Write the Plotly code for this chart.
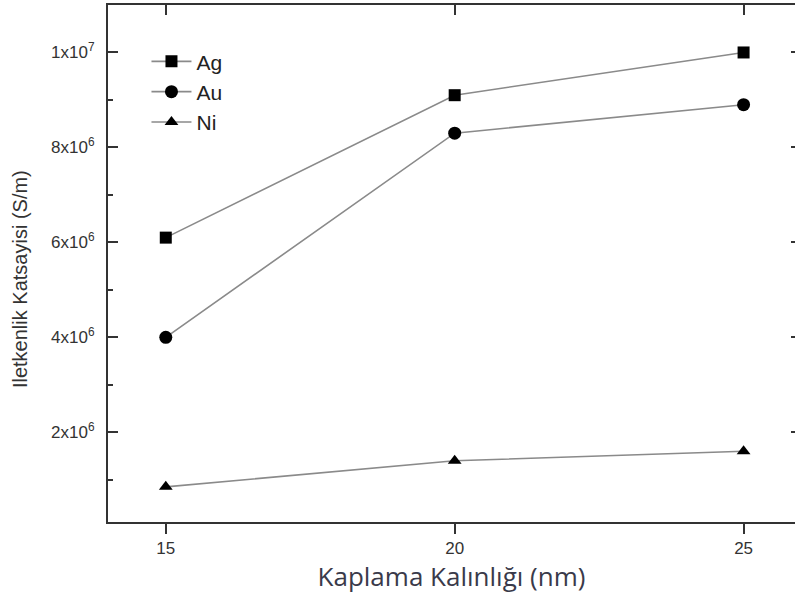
import plotly.graph_objects as go

# Coating thickness (nm) and conductivity (S/m) for each metal
thickness = [15, 20, 25]
ag_values = [6.1e6, 9.1e6, 1.0e7]
au_values = [4.0e6, 8.3e6, 8.9e6]
ni_values = [0.85e6, 1.4e6, 1.6e6]

series_names = ["Ag", "Au", "Ni"]
series_symbols = ["square", "circle", "triangle-up"]

y_tickvals = [2e6, 4e6, 6e6, 8e6, 1e7]
y_ticktext = ["2x10<sup>6</sup>", "4x10<sup>6</sup>", "6x10<sup>6</sup>",
              "8x10<sup>6</sup>", "1x10<sup>7</sup>"]
y_minor = [1e6, 3e6, 5e6, 7e6, 9e6]
x_tickvals = [15, 20, 25]

x_range = [14, 25.89]
y_range = [1.1e5, 1.1e7]

axis_color = "#333333"
label_font = dict(family="Liberation Sans, Arial, sans-serif", size=17, color="#333333")

fig = go.Figure()
for name, vals, sym in zip(series_names, [ag_values, au_values, ni_values], series_symbols):
    fig.add_trace(go.Scatter(
        x=thickness, y=vals, name=name, mode="lines+markers",
        line=dict(color="#8a8a8a", width=1.6),
        marker=dict(symbol=sym, size=12 if sym != "circle" else 13, color="black"),
    ))

# invisible trace carrying the top and right tick marks
fig.add_trace(go.Scatter(x=thickness, y=ag_values, xaxis="x2", yaxis="y2",
                         mode="markers", marker=dict(opacity=0), showlegend=False,
                         hoverinfo="skip"))

fig.update_layout(
    width=795, height=608,
    margin=dict(l=108, r=0, t=5, b=86),
    paper_bgcolor="white", plot_bgcolor="white",
    showlegend=True,
    legend=dict(x=0.056, y=0.93, xanchor="left", yanchor="top",
                bgcolor="rgba(0,0,0,0)",
                font=dict(family="Liberation Sans, Arial, sans-serif", size=21, color="#222222"),
                itemwidth=40, tracegroupgap=0),
    xaxis=dict(range=x_range, tickmode="array", tickvals=x_tickvals,
               showgrid=False, zeroline=False,
               showline=True, linecolor=axis_color, linewidth=2,
               ticks="outside", ticklen=10, tickwidth=2, tickcolor=axis_color,
               tickfont=label_font,
               title=dict(text="Kaplama Kalınlığı (nm)",
                          font=dict(family="Open Sans, sans-serif", size=26, color="#3a3a4a"),
                          standoff=5)),
    xaxis2=dict(range=x_range, overlaying="x", side="top", anchor="y",
                tickmode="array", tickvals=x_tickvals, showticklabels=False,
                showgrid=False, zeroline=False,
                showline=True, linecolor=axis_color, linewidth=2,
                ticks="inside", ticklen=10, tickwidth=2, tickcolor=axis_color),
    yaxis=dict(range=y_range, tickmode="array", tickvals=y_tickvals, ticktext=y_ticktext,
               showgrid=False, zeroline=False,
               showline=True, linecolor=axis_color, linewidth=2,
               ticks="inside", ticklen=10, tickwidth=2, tickcolor=axis_color,
               minor=dict(tickmode="array", tickvals=y_minor, ticks="inside",
                          ticklen=5, tickwidth=2, tickcolor=axis_color),
               tickfont=label_font, ticklabelstandoff=8),
    yaxis2=dict(range=y_range, overlaying="y", side="right", anchor="x",
                tickmode="array", tickvals=y_tickvals, showticklabels=False,
                showgrid=False, zeroline=False, showline=False,
                ticks="inside", ticklen=4, tickwidth=2, tickcolor=axis_color),
    annotations=[dict(
        text="Iletkenlik Katsayisi (S/m)", textangle=-90,
        xref="paper", yref="paper", x=-0.128, y=0.47,
        xanchor="center", yanchor="middle", showarrow=False,
        font=dict(family="Liberation Sans, Arial, sans-serif", size=20, color="#333333"),
    )],
)

fig.write_html("out.html")
